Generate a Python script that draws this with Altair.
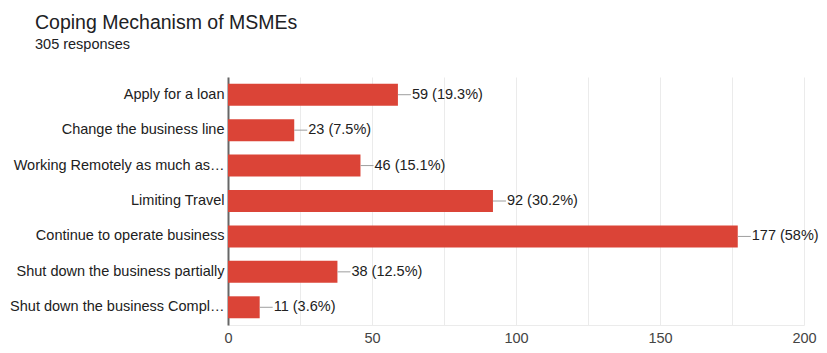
import altair as alt
import pandas as pd

categories = [
    "Apply for a loan",
    "Change the business line",
    "Working Remotely as much as…",
    "Limiting Travel",
    "Continue to operate business",
    "Shut down the business partially",
    "Shut down the business Compl…",
]
counts = [59, 23, 46, 92, 177, 38, 11]
percents = ["19.3%", "7.5%", "15.1%", "30.2%", "58%", "12.5%", "3.6%"]
x_ticks = [0, 25, 50, 75, 100, 125, 150, 175, 200]

df = pd.DataFrame({
    "category": categories,
    "count": counts,
    "label": [f"{c} ({p})" for c, p in zip(counts, percents)],
})

FONT = "Liberation Sans"
RED = "#db4437"

y_enc = alt.Y("category:N", sort=categories, title=None,
              scale=alt.Scale(paddingInner=0.38, paddingOuter=0.19))
x_scale = alt.Scale(domain=[0, 200], nice=False)

base = alt.Chart(df)

bars = base.mark_bar(color=RED).encode(
    x=alt.X("count:Q", scale=x_scale, title=None,
            axis=alt.Axis(values=x_ticks, labelFlush=False,
                          labelExpr="datum.value % 50 == 0 ? datum.label : ''")),
    y=y_enc,
)

leader = base.mark_rule(color="#9e9e9e", strokeWidth=1, x2Offset=13).encode(
    x=alt.X("count:Q", scale=x_scale),
    x2="count:Q",
    y=alt.Y("category:N", sort=categories, bandPosition=0.5),
)

text = base.mark_text(align="left", baseline="middle", dx=14, font=FONT,
                      fontSize=14.5, color="#212121").encode(
    x=alt.X("count:Q", scale=x_scale),
    y=alt.Y("category:N", sort=categories),
    text="label:N",
)

chart = (bars + leader + text).properties(
    width=576,
    height=248,
    autosize=alt.AutoSizeParams(type="none"),
    padding={"left": 220, "top": 69, "right": 15, "bottom": 20},
    title=alt.TitleParams(
        "Coping Mechanism of MSMEs",
        subtitle="305 responses",
        anchor="start",
        frame="group",
        dx=-193,
        offset=25,
        font=FONT,
        fontSize=19.5,
        fontWeight="normal",
        color="#202124",
        subtitleFont=FONT,
        subtitleFontSize=14.5,
        subtitleColor="#202124",
        subtitlePadding=4,
    ),
).configure_view(stroke=None).configure_axisY(
    domainColor="#666666", domainWidth=2, ticks=False, grid=False,
    labelFont=FONT, labelFontSize=14.5, labelColor="#212121", labelPadding=4,
    labelLimit=300,
).configure_axisX(
    domainColor="#ebebeb", ticks=False, gridColor="#ebebeb",
    labelFont=FONT, labelFontSize=14.5, labelColor="#444444", labelPadding=6,
)

chart.save("out.html", embed_options={"renderer": "svg", "actions": False})
